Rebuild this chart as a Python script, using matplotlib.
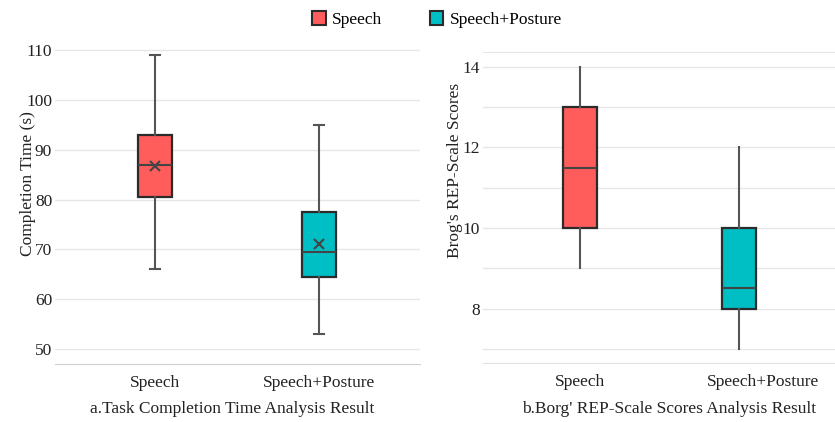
import matplotlib.pyplot as plt
import matplotlib.transforms as mtransforms
from matplotlib.patches import Patch

plt.rcParams['font.family'] = ['Liberation Serif', 'DejaVu Serif']

groups = ['Speech', 'Speech+Posture']
colors = ['#FF5C5C', '#00BFC4']

# completion time (s): whisker low, q1, median, q3, whisker high, mean
time_whislo = [66, 53]
time_q1 = [80.5, 64.5]
time_med = [87, 69.5]
time_q3 = [93, 77.5]
time_whishi = [109, 95]
time_mean = [86.7, 71.0]

# Borg REP-scale scores
borg_whislo = [9, 7]
borg_q1 = [10, 8]
borg_med = [11.5, 8.5]
borg_q3 = [13, 10]
borg_whishi = [14, 12]


def make_stats(lo, q1, med, q3, hi, mean=None):
    out = []
    for i in range(len(lo)):
        d = dict(whislo=lo[i], q1=q1[i], med=med[i], q3=q3[i], whishi=hi[i], fliers=[])
        if mean is not None:
            d['mean'] = mean[i]
        out.append(d)
    return out


def style_axes(ax):
    for s in ['left', 'right', 'top']:
        ax.spines[s].set_visible(False)
    ax.spines['bottom'].set_color('#d0d0d0')
    ax.tick_params(axis='both', length=0, labelsize=12.5, colors='#222222')
    ax.tick_params(axis='y', pad=2)
    ax.tick_params(axis='x', pad=8)
    ax.grid(axis='y', which='both', color='#e6e6e6', linewidth=1)
    ax.set_axisbelow(True)


fig = plt.figure(figsize=(8.35, 4.22), dpi=100)
ax1 = fig.add_axes([0.0659, 0.1374, 0.437, 0.756])
ax2 = fig.add_axes([0.5784, 0.1398, 0.4216, 0.737])

# left: completion time
st1 = make_stats(time_whislo, time_q1, time_med, time_q3, time_whishi, time_mean)
bp1 = ax1.bxp(st1, positions=[1, 2], widths=0.207, patch_artist=True, showmeans=True,
              boxprops=dict(edgecolor='#2b2b2b', linewidth=1.6),
              medianprops=dict(color='#444444', linewidth=1.5),
              whiskerprops=dict(color='#555555', linewidth=1.5),
              capprops=dict(color='#555555', linewidth=1.5),
              meanprops=dict(marker='x', markeredgecolor='#444444', markersize=7, markeredgewidth=1.5),
              capwidths=0.06)
for patch, c in zip(bp1['boxes'], colors):
    patch.set_facecolor(c)
ax1.set_xlim(0.39, 2.616)
ax1.set_ylim(47, 111)
ax1.set_yticks([50, 60, 70, 80, 90, 100, 110])
ax1.set_xticks([1, 2])
ax1.set_xticklabels(groups)
style_axes(ax1)
ax1.set_ylabel('Completion Time (s)', fontsize=12.5, color='#222222')
ax1.yaxis.set_label_coords(-0.052, 0.567)
ax1.set_xlabel('a.Task Completion Time Analysis Result', fontsize=12.5, color='#222222')
ax1.xaxis.set_label_coords(0.485, -0.117)

# right: Borg REP-scale scores
st2 = make_stats(borg_whislo, borg_q1, borg_med, borg_q3, borg_whishi)
bp2 = ax2.bxp(st2, positions=[1, 2], widths=0.21, patch_artist=True, showcaps=False,
              boxprops=dict(edgecolor='#2b2b2b', linewidth=1.6),
              medianprops=dict(color='#444444', linewidth=1.5),
              whiskerprops=dict(color='#555555', linewidth=1.5))
for patch, c in zip(bp2['boxes'], colors):
    patch.set_facecolor(c)
ax2.set_xlim(0.39, 2.604)
ax2.set_ylim(6.65, 14.37)
ax2.set_yticks([8, 10, 12, 14])
ax2.set_yticks([7, 9, 11, 13], minor=True)
ax2.tick_params(axis='y', which='minor', length=0)
ax2.set_xticks([1, 2])
ax2.set_xticklabels(groups)
style_axes(ax2)
ax2.spines['top'].set_visible(True)
ax2.spines['top'].set_color('#e6e6e6')
ax2.spines['bottom'].set_color('#e0e0e0')
ax2.get_xticklabels()[1].set_transform(
    ax2.get_xticklabels()[1].get_transform() + mtransforms.ScaledTranslation(0.24, 0, fig.dpi_scale_trans))
ax2.set_ylabel("Brog's REP-Scale Scores", fontsize=12.5, color='#222222')
ax2.yaxis.set_label_coords(-0.057, 0.62)
ax2.set_xlabel("b.Borg' REP-Scale Scores Analysis Result", fontsize=12.5, color='#222222')
ax2.xaxis.set_label_coords(0.528, -0.122)

handles = [Patch(facecolor=c, edgecolor='#2b2b2b', linewidth=1.5) for c in colors]
fig.legend(handles, groups, loc='center', bbox_to_anchor=(0.523, 0.953), ncol=2,
           frameon=False, fontsize=12.5, handlelength=0.8, handleheight=0.8,
           columnspacing=2.75, handletextpad=0.35)

fig.savefig('out.png', dpi=100)
